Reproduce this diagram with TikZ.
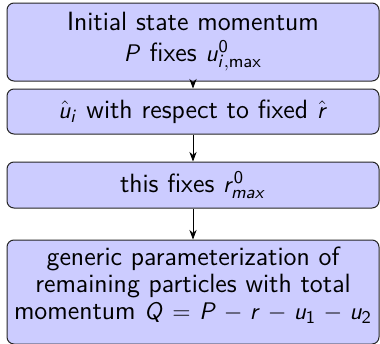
\documentclass[tikz,border=0pt]{standalone}
\usetikzlibrary{arrows.meta}
% sans serif math, as on the slides
\DeclareSymbolFont{sansdigits}{OT1}{cmss}{m}{n}
\DeclareSymbolFont{sansletters}{OT1}{cmss}{m}{sl}
\newcommand\sfletter[1]{\DeclareMathSymbol{#1}{\mathalpha}{sansletters}{`#1}}
\newcommand\sfdigit[1]{\DeclareMathSymbol{#1}{\mathalpha}{sansdigits}{`#1}}
\sfletter{P}\sfletter{Q}\sfletter{u}\sfletter{r}\sfletter{i}
\sfletter{m}\sfletter{a}\sfletter{x}
\sfdigit{0}\sfdigit{1}\sfdigit{2}
\medmuskip=5.5mu plus 2mu minus 4mu
\thickmuskip=6.5mu plus 5mu

\begin{document}
\begin{tikzpicture}[x=0.5pt,y=-0.5pt,>=Stealth,
    stagebox/.style={draw=black!85,fill=blue!20,line width=0.5pt,rounded corners=3.5pt,
      text width=180pt,inner xsep=3pt,inner ysep=0pt,align=center,
      font=\sffamily\fontsize{13.2}{13.6}\selectfont}]
        \useasboundingbox (0,0) rectangle (380,343);
        \node [stagebox,minimum height=39pt] (init) at (193,42)
            {Initial state momentum\\[1.5pt]$P$ fixes $u^0_{i,\mathsf{max}}$};
        \node [stagebox,minimum height=22.5pt] (uhat) at (193,111.5)
            {$\hat u_i$ with respect to fixed $\hat r$};
        \node [stagebox,minimum height=23pt] (rmax) at (193,185)
            {this fixes $r^0_{max}$};
        \node [stagebox,minimum height=52pt] (rest) at (193,292)
            {generic parameterization of\\remaining particles with total\\momentum $Q=P-r-u_1-u_2$\rule[-9pt]{0pt}{0pt}};
        \draw [->] (init) -- (uhat);
        \draw [->] (uhat) -- (rmax);
        \draw [->] (rmax) -- (rest);
    \end{tikzpicture}
\end{document}
